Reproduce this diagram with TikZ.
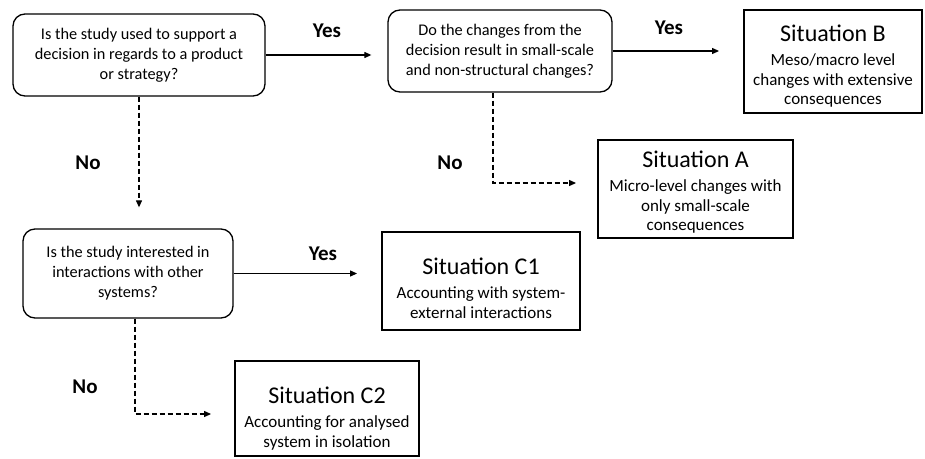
\documentclass[tikz,border=0pt]{standalone}
\usepackage{fontspec}
\setmainfont{Carlito}
\usetikzlibrary{arrows.meta}
\newcommand{\sittitle}{\fontsize{24}{26}\selectfont}
\newcommand{\sitbody}{\fontsize{17}{19.5}\selectfont}
\begin{document}
\begin{tikzpicture}[x=1pt,y=-1pt,
  question/.style={draw, rounded corners=12pt, line width=1.3pt, align=center,
    font=\fontsize{16.3}{20}\selectfont, inner sep=0pt},
  outcome/.style={draw, line width=1.9pt, align=center, inner sep=0pt, font=\sitbody},
  answer/.style={font=\bfseries\fontsize{21}{24}\selectfont},
  flow/.style={line width=1.2pt, -{Triangle[length=7pt,width=6pt]}},
  flowdash/.style={flow, dash pattern=on 5pt off 3pt},
]
\useasboundingbox (0,0) rectangle (925,458);

% decision questions
\node[question, minimum width=252pt, minimum height=82pt] (q1) at (139,55)
  {Is the study used to support a\\ decision in regards to a product\\ or strategy?};
\node[question, minimum width=224pt, minimum height=82pt] (q2) at (500,51)
  {Do the changes from the\\ decision result in small-scale\\ and non-structural changes?};
\node[question, minimum width=210pt, minimum height=89pt] (q3) at (128,273.5)
  {Is the study interested in\\ interactions with other\\ systems?};

% resulting situations (the strut in each title line sets the text's vertical offset)
\node[outcome, minimum width=178pt, minimum height=103pt] (sitB) at (833,61.5)
  {{\sittitle\rule{0pt}{26pt}Situation B}\\[5pt] Meso/macro level\\ changes with extensive\\ consequences};
\node[outcome, minimum width=195pt, minimum height=98pt] (sitA) at (695.5,189)
  {{\sittitle\rule{0pt}{23pt}Situation A}\\[5pt] Micro-level changes with\\ only small-scale\\ consequences};
\node[outcome, minimum width=198pt, minimum height=98pt] (sitC1) at (481,281)
  {{\sittitle\rule{0pt}{31pt}Situation C1}\\[5pt] Accounting with system-\\ external interactions};
\node[outcome, minimum width=184pt, minimum height=95pt] (sitC2) at (327,408.5)
  {{\sittitle\rule{0pt}{36pt}Situation C2}\\[5pt] Accounting for analysed\\ system in isolation};

% "yes" branches
\draw[flow, shorten >=16pt] (q1.east) -- (q1.east -| q2.west);
\draw[flow, shorten >=24pt] (q2.east) -- (q2.east -| sitB.west);
\draw[flow, shorten >=24pt] (q3.east) -- (q3.east -| sitC1.west);

% "no" branches
\draw[flowdash, shorten >=21pt] (q1.south) -- (q1.south |- q3.north);
\draw[flowdash, shorten >=21pt] ([xshift=-7pt]q2.south) |- ([yshift=6pt]sitA.west);
\draw[flowdash, shorten >=23pt] ([xshift=7pt]q3.south) |- ([yshift=-5.5pt]sitC2.west);

% branch labels
\node[answer] (y1) at (327,31) {Yes};
\node[answer] (y2) at (669,28) {Yes};
\node[answer] (y3) at (323,254) {Yes};
\node[answer] (n1) at (88,163) {No};
\node[answer] (n2) at (450,163) {No};
\node[answer] (n3) at (85,387) {No};
\end{tikzpicture}
\end{document}
